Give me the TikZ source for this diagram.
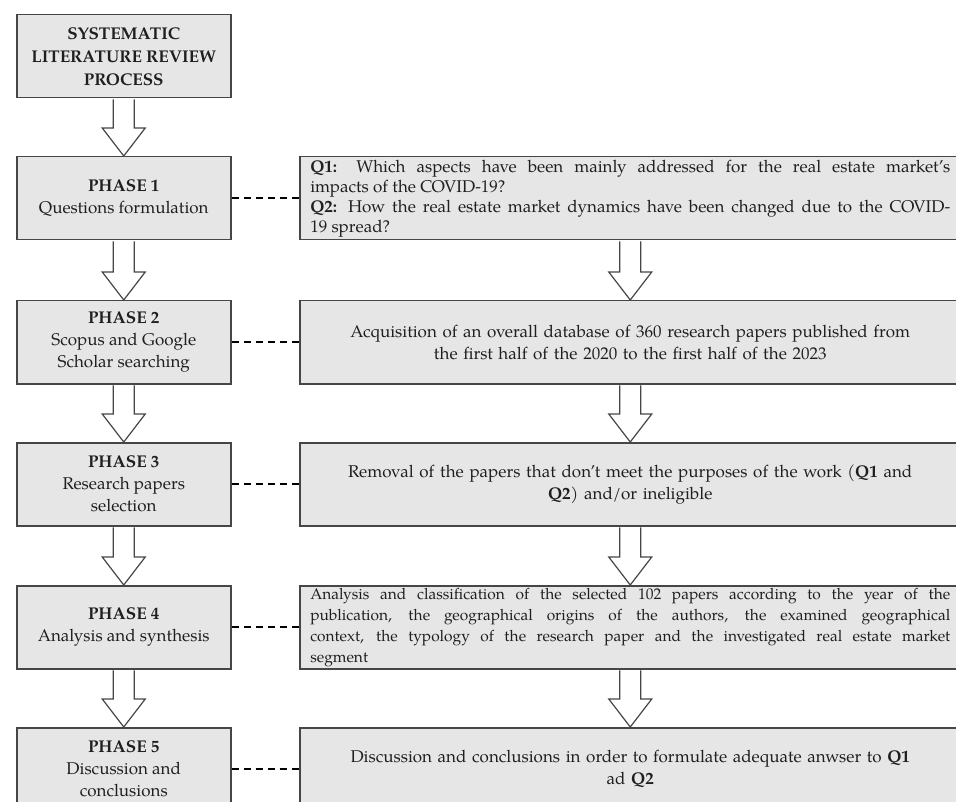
\documentclass[tikz,border=0pt]{standalone}
\usepackage{fontspec}
\setmainfont{TeX Gyre Pagella}
\usetikzlibrary{positioning,calc}
\definecolor{boxfill}{RGB}{230,230,230}
\definecolor{boxline}{RGB}{70,70,70}
\newcommand{\hollowarrow}[2]{%
  \draw[hollow] let \p1=(#1.south), \p2=(#2.north) in
    (\x1-10.5,\y1-0.8) -- (\x1-10.5,\y2+28) -- (\x1-21.5,\y2+28) -- (\x1,\y2)
    -- (\x1+21.5,\y2+28) -- (\x1+10.5,\y2+28) -- (\x1+10.5,\y1-0.8);}

\begin{document}
\begin{tikzpicture}[x=1pt,y=-1pt,every node/.style={font=\fontsize{17}{22}\selectfont,text=black!88},
  box/.style={draw=boxline,line width=1.5pt,fill=boxfill,anchor=north west},
  phase/.style={box,minimum width=214pt,minimum height=83pt,align=center,inner sep=2pt},
  task/.style={box,minimum width=661pt,minimum height=83pt,text width=640pt,inner xsep=10pt,inner ysep=0pt},
  hollow/.style={draw=boxline,line width=1.2pt,fill=white,line join=miter},
  link/.style={line width=1.6pt,dash pattern=on 7pt off 5pt}]
\useasboundingbox (0,0) rectangle (956,802);
\clip (0,0) rectangle (956,802);
% left column: the phases
\node[phase,font=\bfseries\fontsize{17}{23}\selectfont] (slr) at (16,14) {SYSTEMATIC\\LITERATURE REVIEW\\PROCESS};
\node[phase] (p1) at (16,156) {\textbf{PHASE 1}\\Questions formulation};
\node[phase] (p2) at (16,300) {\textbf{PHASE 2}\\Scopus and Google\\Scholar searching};
\node[phase] (p3) at (16,442) {\textbf{PHASE 3}\\Research papers\\selection};
\node[phase] (p4) at (16,585) {\textbf{PHASE 4}\\Analysis and synthesis};
\node[phase] (p5) at (16,727) {\textbf{PHASE 5}\\Discussion and\\conclusions};
% right column: what each phase does
\node[task,align=justify,font=\fontsize{17}{20}\selectfont] (r1) at (299,156) {\textbf{Q1:} Which aspects have been mainly addressed for the real estate market's\linebreak impacts of the COVID-19?\\\textbf{Q2:} How the real estate market dynamics have been changed due to the COVID-\linebreak 19 spread?};
\node[task,align=center] (r2) at (299,300) {Acquisition of an overall database of 360 research papers published from\\the first half of the 2020 to the first half of the 2023};
\node[task,align=center] (r3) at (299,442) {Removal of the papers that don't meet the purposes of the work (\textbf{Q1} and\\\textbf{Q2}) and/or ineligible};
\node[task,align=justify,font=\fontsize{15.5}{21}\selectfont] (r4) at (299,585) {Analysis and classification of the selected 102 papers according to the year of the\linebreak publication, the geographical origins of the authors, the examined geographical\linebreak context, the typology of the research paper and the investigated real estate market\linebreak segment};
\node[task,align=center] (r5) at (299,727) {Discussion and conclusions in order to formulate adequate anwser to \textbf{Q1}\\ad \textbf{Q2}};
% block arrows
\foreach \a/\b in {slr/p1,p1/p2,p2/p3,p3/p4,p4/p5,r1/r2,r2/r3,r3/r4,r4/r5}
  {\hollowarrow{\a}{\b}}
% dashed links
\foreach \i in {1,...,5}
  {\draw[link] (p\i.east) -- (r\i.west);}
\end{tikzpicture}
\end{document}
